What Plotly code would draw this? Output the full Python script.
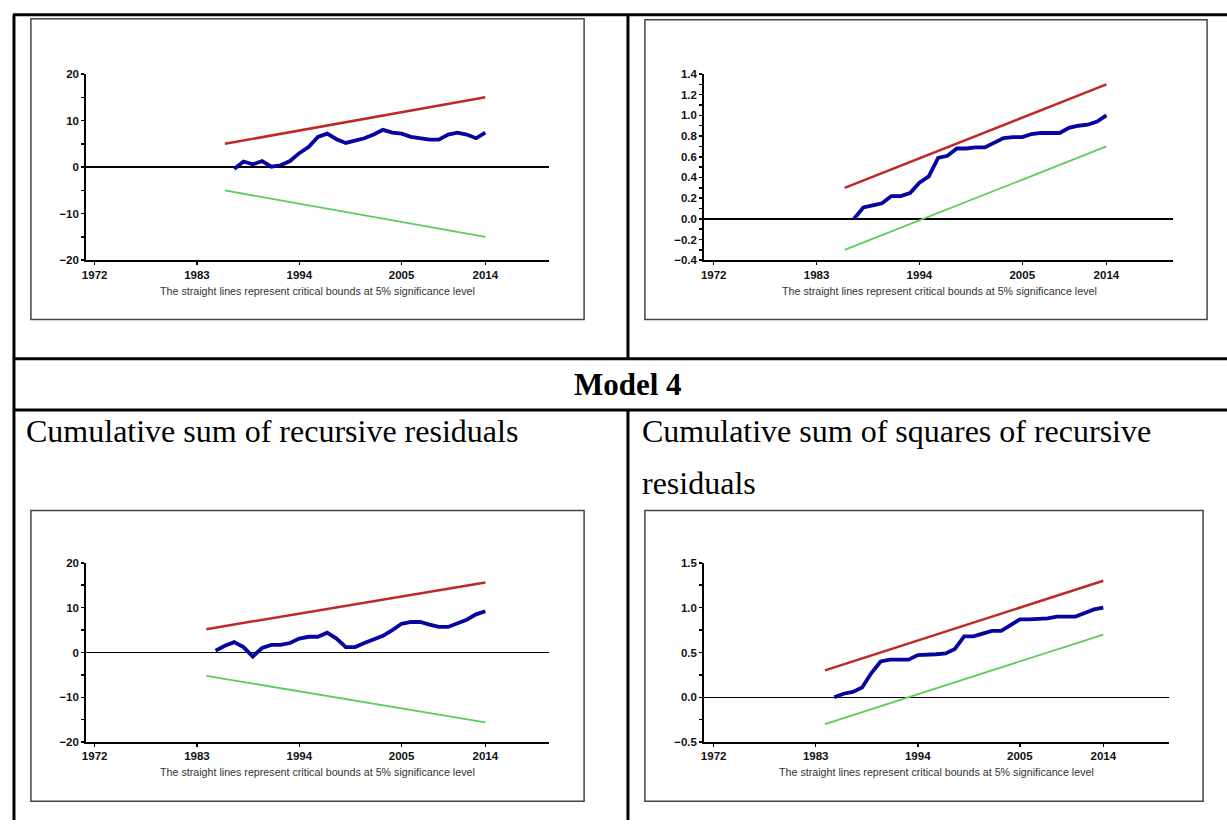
import plotly.graph_objects as go

W, H = 1227, 826

# ---------------- data ----------------
x_ticks = [1972, 1983, 1994, 2005, 2014]
caption = "The straight lines represent critical bounds at 5% significance level"

# Chart 1: CUSUM (top-left)
c1_years = list(range(1987, 2015))
c1_cusum = [-0.4, 1.2, 0.6, 1.3, 0.1, 0.4, 1.3, 3.0, 4.3, 6.5, 7.2, 6.0, 5.2, 5.7,
            6.2, 7.0, 8.0, 7.4, 7.2, 6.5, 6.1, 5.9, 5.9, 7.0, 7.4, 7.0, 6.2, 7.4]
c1_bound_years = [1986, 2014]
c1_upper = [5.0, 15.0]
c1_lower = [-5.0, -15.0]

# Chart 2: CUSUM of squares (top-right)
c2_years = list(range(1987, 2015))
c2_cusumsq = [0.00, 0.11, 0.13, 0.15, 0.22, 0.22, 0.25, 0.35, 0.41, 0.59, 0.61, 0.68,
              0.68, 0.69, 0.69, 0.74, 0.78, 0.79, 0.79, 0.82, 0.83, 0.83, 0.83, 0.88,
              0.90, 0.91, 0.94, 1.00]
c2_bound_years = [1986, 2014]
c2_upper = [0.30, 1.30]
c2_lower = [-0.30, 0.70]

# Chart 3: Model 4 CUSUM (bottom-left)
c3_years = list(range(1985, 2015))
c3_cusum = [0.4, 1.5, 2.3, 1.2, -0.9, 1.0, 1.7, 1.7, 2.1, 3.1, 3.5, 3.5, 4.4, 3.1, 1.2,
            1.2, 2.1, 2.9, 3.7, 5.0, 6.4, 6.8, 6.8, 6.2, 5.7, 5.7, 6.4, 7.3, 8.5, 9.2]
c3_bound_years = [1984, 2014]
c3_upper = [5.2, 15.6]
c3_lower = [-5.2, -15.6]

# Chart 4: Model 4 CUSUM of squares (bottom-right)
c4_years = list(range(1985, 2015))
c4_cusumsq = [0.00, 0.04, 0.06, 0.11, 0.27, 0.40, 0.42, 0.42, 0.42, 0.47, 0.47, 0.48,
              0.49, 0.54, 0.68, 0.68, 0.71, 0.74, 0.74, 0.81, 0.87, 0.87, 0.87, 0.88,
              0.90, 0.90, 0.90, 0.94, 0.98, 1.00]
c4_bound_years = [1984, 2014]
c4_upper = [0.30, 1.30]
c4_lower = [-0.30, 0.70]

RED = "rgb(192,40,40)"
GREEN = "rgb(90,205,90)"
BLUE = "rgb(5,5,160)"


def px(x):
    return x / W


def py(y):
    return 1 - y / H


fig = go.Figure()

charts = [
    ("", c1_years, c1_cusum, c1_bound_years, c1_upper, c1_lower,
     (82, 547), (69, 258), [1971.04, 2020.87], [-20, 20], 10, 5, "d",
     (27, 13, 582, 318), (315, 289)),
    ("2", c2_years, c2_cusumsq, c2_bound_years, c2_upper, c2_lower,
     (702, 1173), (69, 258), [1970.93, 2021.14], [-0.4, 1.4], 0.2, 0.1, ".1f",
     (643, 14, 1207, 318), (939, 289)),
    ("3", c3_years, c3_cusum, c3_bound_years, c3_upper, c3_lower,
     (82, 547), (565, 747), [1971.04, 2020.87], [-20, 20], 10, 5, "d",
     (27, 512, 582, 807), (315, 777)),
    ("4", c4_years, c4_cusumsq, c4_bound_years, c4_upper, c4_lower,
     (702, 1169), (565, 747), [1970.93, 2021.1], [-0.5, 1.5], 0.5, 0.25, ".1f",
     (643, 512, 1203, 807), (936, 777)),
]

shapes = []
annotations = []
tickfont = dict(family="Liberation Sans", size=11.5, color="#111", weight="bold")

for (sfx, yrs, ser, byrs, up, low, xd, yd, xr, yr, dt, mn, fmt, box, cap) in charts:
    xa = "x" + sfx
    ya = "y" + sfx
    shapes.append(dict(type="rect", xref="paper", yref="paper",
                       x0=px(box[0]), x1=px(box[2]), y0=py(box[3]), y1=py(box[1]),
                       line=dict(color="#444", width=1.5), fillcolor="rgba(0,0,0,0)",
                       layer="below"))
    fig.add_trace(go.Scatter(x=byrs, y=up, mode="lines", xaxis=xa, yaxis=ya,
                             line=dict(color=RED, width=2.5), showlegend=False))
    fig.add_trace(go.Scatter(x=byrs, y=low, mode="lines", xaxis=xa, yaxis=ya,
                             line=dict(color=GREEN, width=1.8), showlegend=False))
    fig.add_trace(go.Scatter(x=yrs, y=ser, mode="lines", xaxis=xa, yaxis=ya,
                             line=dict(color=BLUE, width=3.8), showlegend=False))
    xkey = "xaxis" + sfx
    ykey = "yaxis" + sfx
    fig.update_layout(**{
        xkey: dict(domain=[px(xd[0]), px(xd[1])], range=xr, anchor=ya,
                   tickvals=x_ticks, ticktext=[str(t) for t in x_ticks],
                   showline=True, linecolor="black", linewidth=1.5,
                   ticks="outside", ticklen=3, tickwidth=1.5, tickcolor="black",
                   showgrid=False, zeroline=False, tickfont=tickfont),
        ykey: dict(domain=[py(yd[1]), py(yd[0])], range=yr, anchor=xa,
                   dtick=dt, tick0=0, tickformat=fmt,
                   showline=True, linecolor="black", linewidth=1.5,
                   ticks="outside", ticklen=3, tickwidth=1.5, tickcolor="black",
                   minor=dict(dtick=mn, tick0=0, ticks="outside", ticklen=3,
                              tickwidth=1.5, tickcolor="black", showgrid=False),
                   showgrid=False, zeroline=True, zerolinecolor="black", zerolinewidth=1.5,
                   tickfont=tickfont),
    })
    annotations.append(dict(text=caption, xref="paper", yref="paper",
                            x=px(cap[0]), y=py(cap[1]), xanchor="center", yanchor="middle",
                            showarrow=False,
                            font=dict(family="Liberation Sans", size=10.7, color="#333")))

LW = 3
table_lines = [
    (9, 9, W, 9),
    (10, 9, 10, H),
    (626, 9, 626, 358),
    (9, 358, W, 358),
    (9, 410, W, 410),
    (626, 410, 626, H),
]
for (x0, y0, x1, y1) in table_lines:
    shapes.append(dict(type="line", xref="paper", yref="paper",
                       x0=px(x0), y0=py(y0), x1=px(x1), y1=py(y1),
                       line=dict(color="black", width=LW)))

serif = "Liberation Serif"
annotations += [
    dict(text="<b>Model 4</b>", xref="paper", yref="paper", x=px(626), y=py(384),
         xanchor="center", yanchor="middle", showarrow=False,
         font=dict(family=serif, size=31, color="black")),
    dict(text="Cumulative sum of recursive residuals", xref="paper", yref="paper",
         x=px(20), y=py(431), xanchor="left", yanchor="middle", showarrow=False,
         font=dict(family=serif, size=32, color="black")),
    dict(text="Cumulative sum of squares of recursive", xref="paper", yref="paper",
         x=px(638), y=py(431), xanchor="left", yanchor="middle", showarrow=False,
         font=dict(family=serif, size=32, color="black")),
    dict(text="residuals", xref="paper", yref="paper",
         x=px(638), y=py(484), xanchor="left", yanchor="middle", showarrow=False,
         font=dict(family=serif, size=32, color="black")),
]

fig.update_layout(width=W, height=H, margin=dict(l=0, r=0, t=0, b=0),
                  paper_bgcolor="white", plot_bgcolor="rgba(0,0,0,0)",
                  shapes=shapes, annotations=annotations, showlegend=False)

fig.write_html("out.html", config={"displayModeBar": False, "staticPlot": True})

# remove default page margin so the figure sits at the window origin
with open("out.html", "r", encoding="utf-8") as f:
    html = f.read()
html = html.replace("<head>", "<head><style>html,body{margin:0;padding:0;overflow:hidden;}</style>", 1)
with open("out.html", "w", encoding="utf-8") as f:
    f.write(html)
